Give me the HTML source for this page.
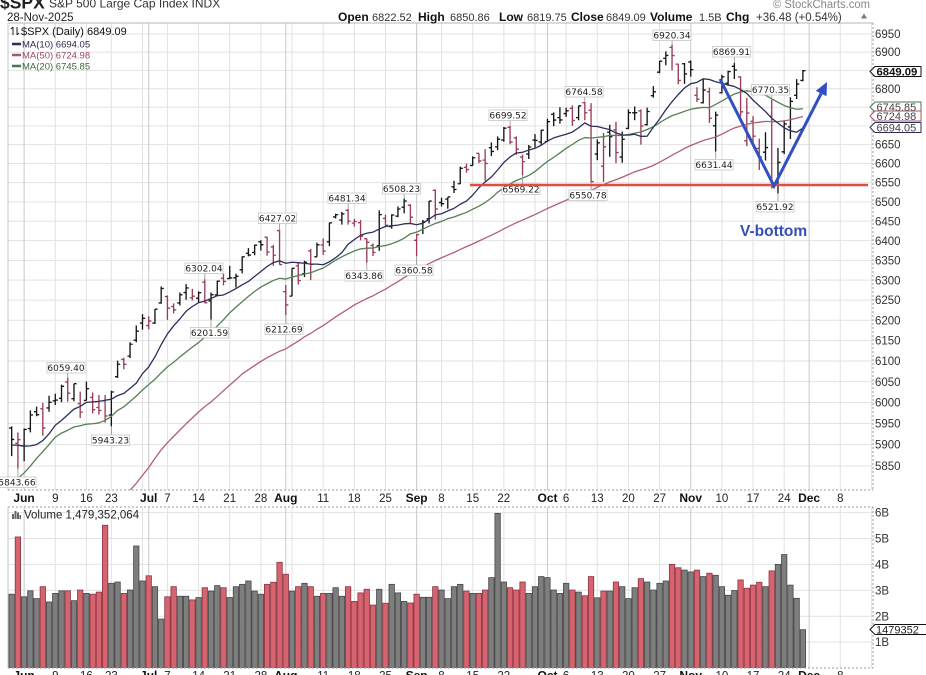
<!DOCTYPE html>
<html><head><meta charset="utf-8">
<style>
html,body{margin:0;padding:0;background:#fff;}
svg{display:block;}
text{font-family:"Liberation Sans",Arial,sans-serif;}
.lb{font-family:"DejaVu Sans",sans-serif;font-size:9px;fill:#222;text-anchor:middle;}
.ax{font-size:11.5px;fill:#333;}
.xd{font-size:11.5px;fill:#222;text-anchor:middle;}
.xm{font-size:12px;font-weight:bold;fill:#111;text-anchor:middle;}
</style></head>
<body>
<svg id="c" width="926" height="675" viewBox="0 0 926 675" xmlns="http://www.w3.org/2000/svg">
<defs>
<clipPath id="pc"><rect x="8" y="23" width="865" height="467"/></clipPath>
<clipPath id="vc"><rect x="8" y="507" width="865" height="161"/></clipPath>
</defs>
<rect width="926" height="675" fill="#fff"/>
<g id="grid"></g>
<g id="vol" clip-path="url(#vc)"></g>
<g id="bars" clip-path="url(#pc)"></g>
<g id="mas" clip-path="url(#pc)" fill="none"></g>
<g id="frame"></g>

<!-- annotation labels -->
<g stroke="#9a9a9a" stroke-width="0.9">
<line x1="67.7" y1="372.5" x2="67.7" y2="377.8"/>
<line x1="111.4" y1="426.4" x2="111.4" y2="435"/>
<line x1="17.9" y1="468.7" x2="17.9" y2="477"/>
<line x1="204.8" y1="273" x2="204.8" y2="279.4"/>
<line x1="211" y1="319.6" x2="211" y2="327.5"/>
<line x1="285.8" y1="315.2" x2="285.8" y2="324"/>
<line x1="279.6" y1="223.5" x2="279.6" y2="230.2"/>
<line x1="348.1" y1="203.5" x2="348.1" y2="209.1"/>
<line x1="366.8" y1="262.8" x2="366.8" y2="270.5"/>
<line x1="404.2" y1="194" x2="404.2" y2="198.7"/>
<line x1="416.6" y1="256.2" x2="416.6" y2="265"/>
<line x1="510.1" y1="120.5" x2="510.1" y2="126"/>
<line x1="522.5" y1="175.3" x2="522.5" y2="184"/>
<line x1="584.8" y1="97" x2="584.8" y2="101.8"/>
<line x1="591.1" y1="182.6" x2="591.1" y2="190"/>
<line x1="672.1" y1="40.5" x2="672.1" y2="44.7"/>
<line x1="734.4" y1="57" x2="734.4" y2="63.1"/>
<line x1="715.7" y1="151.9" x2="715.7" y2="159.5"/>
<line x1="771.7" y1="95" x2="771.7" y2="99.7"/>
<line x1="778" y1="193.4" x2="778" y2="201.5"/>
</g>
<g fill="#fff" stroke="#c6c6c6" stroke-width="0.8">
<rect x="47" y="362.5" width="38" height="10.5"/>
<rect x="91.5" y="435" width="38" height="10.5"/>
<rect x="-2" y="477" width="38" height="10.5"/>
<rect x="185" y="263" width="38" height="10.5"/>
<rect x="190.5" y="327.5" width="38" height="10.5"/>
<rect x="265" y="324" width="38" height="10.5"/>
<rect x="258.5" y="213" width="38" height="10.5"/>
<rect x="328" y="193" width="38" height="10.5"/>
<rect x="345" y="270.5" width="38" height="10.5"/>
<rect x="382.5" y="183.5" width="38" height="10.5"/>
<rect x="395" y="265" width="38" height="10.5"/>
<rect x="489" y="110" width="38" height="10.5"/>
<rect x="502" y="184" width="38" height="10.5"/>
<rect x="565" y="86.5" width="38" height="10.5"/>
<rect x="569" y="190" width="38" height="10.5"/>
<rect x="653" y="30" width="38" height="10.5"/>
<rect x="712.5" y="46.5" width="38" height="10.5"/>
<rect x="695" y="159.5" width="38" height="10.5"/>
<rect x="751.5" y="84.5" width="38" height="10.5"/>
<rect x="756" y="201.5" width="38" height="10.5"/>
</g>
<g>
<text class="lb" x="66" y="371">6059.40</text>
<text class="lb" x="110.5" y="443.5">5943.23</text>
<text class="lb" x="17" y="485.5">5843.66</text>
<text class="lb" x="204" y="271.5">6302.04</text>
<text class="lb" x="209.5" y="336">6201.59</text>
<text class="lb" x="284" y="332.5">6212.69</text>
<text class="lb" x="277.5" y="221.5">6427.02</text>
<text class="lb" x="347" y="201.5">6481.34</text>
<text class="lb" x="364" y="279">6343.86</text>
<text class="lb" x="401.5" y="192">6508.23</text>
<text class="lb" x="414" y="273.5">6360.58</text>
<text class="lb" x="508" y="118.5">6699.52</text>
<text class="lb" x="521" y="192.5">6569.22</text>
<text class="lb" x="584" y="95">6764.58</text>
<text class="lb" x="588" y="198.5">6550.78</text>
<text class="lb" x="672" y="38.5">6920.34</text>
<text class="lb" x="731.5" y="55">6869.91</text>
<text class="lb" x="714" y="168">6631.44</text>
<text class="lb" x="770.5" y="93">6770.35</text>
<text class="lb" x="775" y="210">6521.92</text>
</g>

<!-- support line & V -->
<line x1="470" y1="185" x2="868" y2="185" stroke="#e04e42" stroke-width="2.5"/>
<polyline points="720,79 774,186 821.1,93.6" fill="none" stroke="#2f4fc4" stroke-width="3" stroke-linejoin="miter"/>
<polygon points="827,82 826.5,96.3 815.8,90.9" fill="#2f4fc4"/>
<text x="740" y="236" font-size="15.5" font-weight="bold" fill="#3550b5">V-bottom</text>

<!-- header -->
<text x="0" y="8.5" font-size="17.5" font-weight="bold" fill="#222">$SPX</text>
<text x="49" y="7.5" font-size="12" fill="#333">S&amp;P 500 Large Cap Index INDX</text>
<text x="773" y="8" font-size="11.5" fill="#888" textLength="97" lengthAdjust="spacingAndGlyphs">© StockCharts.com</text>
<text x="7" y="21" font-size="11.5" fill="#222">28-Nov-2025</text>
<g font-size="11" fill="#333">
<text x="338" y="21" font-size="12" font-weight="bold" fill="#111">Open</text>
<text x="372" y="21">6822.52</text>
<text x="418" y="21" font-size="12" font-weight="bold" fill="#111">High</text>
<text x="450" y="21">6850.86</text>
<text x="499" y="21" font-size="12" font-weight="bold" fill="#111">Low</text>
<text x="527" y="21">6819.75</text>
<text x="571" y="21" font-size="12" font-weight="bold" fill="#111">Close</text>
<text x="606" y="21">6849.09</text>
<text x="650" y="21" font-size="12" font-weight="bold" fill="#111">Volume</text>
<text x="699" y="21">1.5B</text>
<text x="726" y="21" font-size="12" font-weight="bold" fill="#111">Chg</text>
<text x="756" y="21" font-size="11.5">+36.48 (+0.54%)</text>
</g>
<polygon points="861,18.5 867,18.5 864,13.5" fill="#777"/>

<!-- legend -->
<g stroke="#222" stroke-width="1">
<line x1="13" y1="27" x2="13" y2="35"/><line x1="11" y1="29" x2="13" y2="27"/>
<line x1="17" y1="27" x2="17" y2="35"/><line x1="17" y1="35" x2="19" y2="33"/>
</g>
<text x="21" y="35" font-family="DejaVu Sans Mono, monospace" font-size="11" fill="#111">$SPX (Daily) 6849.09</text>
<line x1="12" y1="44" x2="21" y2="44" stroke="#2e2e5c" stroke-width="2.5"/>
<text x="22" y="47.5" font-family="DejaVu Sans, sans-serif" font-size="9.5" fill="#2a2a50">MA(10) 6694.05</text>
<line x1="12" y1="55" x2="21" y2="55" stroke="#a5566a" stroke-width="2.5"/>
<text x="22" y="58.5" font-family="DejaVu Sans, sans-serif" font-size="9.5" fill="#9a4a5e">MA(50) 6724.98</text>
<line x1="12" y1="66" x2="21" y2="66" stroke="#4a754a" stroke-width="2.5"/>
<text x="22" y="69.5" font-family="DejaVu Sans, sans-serif" font-size="9.5" fill="#3e663e">MA(20) 6745.85</text>

<g fill="#666">
<rect x="12" y="514" width="2" height="5"/><rect x="14.5" y="511" width="2" height="8"/><rect x="17" y="512.5" width="2" height="6.5"/><rect x="19.5" y="515" width="1.5" height="4"/>
</g>
<text x="24" y="518.5" font-family="DejaVu Sans Mono, monospace" font-size="11.5" fill="#222">Volume 1,479,352,064</text>

<!-- price axis -->
<g class="ax">
<text x="875" y="38">6950</text>
<text x="875" y="56.2">6900</text>
<text x="875" y="92.8">6800</text>
<text x="875" y="148.7">6650</text>
<text x="875" y="167.6">6600</text>
<text x="875" y="186.7">6550</text>
<text x="875" y="205.9">6500</text>
<text x="875" y="225.3">6450</text>
<text x="875" y="244.8">6400</text>
<text x="875" y="264.5">6350</text>
<text x="875" y="284.3">6300</text>
<text x="875" y="304.2">6250</text>
<text x="875" y="324.4">6200</text>
<text x="875" y="344.7">6150</text>
<text x="875" y="365.1">6100</text>
<text x="875" y="385.8">6050</text>
<text x="875" y="406.6">6000</text>
<text x="875" y="427.6">5950</text>
<text x="875" y="448.7">5900</text>
<text x="875" y="470">5850</text>
</g>
<!-- tags -->
<polygon points="870,71.5 875,66.5 921,66.5 921,76.5 875,76.5" fill="#fff" stroke="#111" stroke-width="1"/>
<text x="876.5" y="75.3" font-size="11.3" font-weight="bold" fill="#111">6849.09</text>
<polygon points="870,107 875,102 921,102 921,112 875,112" fill="#fff" stroke="#4a754a" stroke-width="1"/>
<text x="876.5" y="110.8" font-size="11" fill="#444">6745.85</text>
<polygon points="870,116 875,111 921,111 921,121 875,121" fill="#fff" stroke="#a5566a" stroke-width="1"/>
<text x="876.5" y="119.8" font-size="11" fill="#444">6724.98</text>
<polygon points="870,127.5 875,122.5 921,122.5 921,132.5 875,132.5" fill="#fff" stroke="#2e2e5c" stroke-width="1"/>
<text x="876.5" y="131.3" font-size="11" fill="#444">6694.05</text>

<!-- volume axis -->
<g class="ax">
<text x="875" y="516.7">6B</text>
<text x="875" y="542.6">5B</text>
<text x="875" y="568.5">4B</text>
<text x="875" y="594.4">3B</text>
<text x="875" y="620.3">2B</text>
<text x="875" y="646.2">1B</text>
</g>
<polygon points="870,629.5 875,624.5 930,624.5 930,634.5 875,634.5" fill="#fff" stroke="#111" stroke-width="1"/>
<text x="876" y="633.5" font-size="11" fill="#222">1479352</text>

<!-- x axis top -->
<g>
<text class="xm" x="24.1" y="502">Jun</text>
<text class="xd" x="55.3" y="502">9</text>
<text class="xd" x="86.4" y="502">16</text>
<text class="xd" x="111.4" y="502">23</text>
<text class="xm" x="148.7" y="502">Jul</text>
<text class="xd" x="167.4" y="502">7</text>
<text class="xd" x="198.6" y="502">14</text>
<text class="xd" x="229.7" y="502">21</text>
<text class="xd" x="260.9" y="502">28</text>
<text class="xm" x="285.8" y="502">Aug</text>
<text class="xd" x="323.2" y="502">11</text>
<text class="xd" x="354.3" y="502">18</text>
<text class="xd" x="385.5" y="502">25</text>
<text class="xm" x="416.6" y="502">Sep</text>
<text class="xd" x="441.5" y="502">8</text>
<text class="xd" x="472.7" y="502">15</text>
<text class="xd" x="503.8" y="502">22</text>
<text class="xm" x="547.5" y="502">Oct</text>
<text class="xd" x="566.1" y="502">6</text>
<text class="xd" x="597.3" y="502">13</text>
<text class="xd" x="628.4" y="502">20</text>
<text class="xd" x="659.6" y="502">27</text>
<text class="xm" x="690.7" y="502">Nov</text>
<text class="xd" x="721.9" y="502">10</text>
<text class="xd" x="753" y="502">17</text>
<text class="xd" x="784.2" y="502">24</text>
<text class="xm" x="809.1" y="502">Dec</text>
<text class="xd" x="840.3" y="502">8</text>
</g>
<!-- x axis bottom (cut) -->
<g>
<text class="xm" x="24.1" y="679.5">Jun</text>
<text class="xd" x="55.3" y="679.5">9</text>
<text class="xd" x="86.4" y="679.5">16</text>
<text class="xd" x="111.4" y="679.5">23</text>
<text class="xm" x="148.7" y="679.5">Jul</text>
<text class="xd" x="167.4" y="679.5">7</text>
<text class="xd" x="198.6" y="679.5">14</text>
<text class="xd" x="229.7" y="679.5">21</text>
<text class="xd" x="260.9" y="679.5">28</text>
<text class="xm" x="285.8" y="679.5">Aug</text>
<text class="xd" x="323.2" y="679.5">11</text>
<text class="xd" x="354.3" y="679.5">18</text>
<text class="xd" x="385.5" y="679.5">25</text>
<text class="xm" x="416.6" y="679.5">Sep</text>
<text class="xd" x="441.5" y="679.5">8</text>
<text class="xd" x="472.7" y="679.5">15</text>
<text class="xd" x="503.8" y="679.5">22</text>
<text class="xm" x="547.5" y="679.5">Oct</text>
<text class="xd" x="566.1" y="679.5">6</text>
<text class="xd" x="597.3" y="679.5">13</text>
<text class="xd" x="628.4" y="679.5">20</text>
<text class="xd" x="659.6" y="679.5">27</text>
<text class="xm" x="690.7" y="679.5">Nov</text>
<text class="xd" x="721.9" y="679.5">10</text>
<text class="xd" x="753" y="679.5">17</text>
<text class="xd" x="784.2" y="679.5">24</text>
<text class="xm" x="809.1" y="679.5">Dec</text>
<text class="xd" x="840.3" y="679.5">8</text>
</g>
</svg>
<script>
(function(){
const NS="http://www.w3.org/2000/svg";
function el(t,a,p){const e=document.createElementNS(NS,t);for(const k in a)e.setAttribute(k,a[k]);p.appendChild(e);return e;}
const X=i=>17.9+6.23*i;
const Y=p=>34+2507*Math.log(6950/p);
const VY=v=>668-25.9*v;
const pre=[5638.94,5675.12,5614.66,5675.29,5662.89,5667.56,5767.57,5776.65,5712.20,5693.31,5580.94,5611.85,5633.07,5670.97,5396.52,5074.08,5062.25,4982.77,5456.90,5268.05,5363.36,5405.97,5396.63,5275.70,5282.70,5158.20,5287.76,5375.86,5484.77,5525.21,5528.75,5560.83,5569.06,5604.14,5686.67,5650.38,5606.91,5631.28,5663.94,5659.91,5844.19,5886.55,5892.58,5916.93,5958.38,5963.60,5940.46,5844.61,5842.01,5802.82,5921.54,5888.55];
const D=[[5939,5943,5873,5912.17],[5903,5929,5843.66,5911.69],[5897,5938,5861,5935.94],[5938,5981,5929,5970.37],[5978,5990,5967,5970.81],[5985,5999,5921,5939.30],[5987,6016,5978,6000.36],[6004,6021,5994,6005.88],[6010,6043,6001,6038.81],[6049,6059.40,6002,6022.24],[6009,6045,6003,6045.26],[5997,6026,5963,5976.97],[6005,6050,6005,6033.11],[6012,6024,5974,5982.72],[5988,6018,5971,5980.87],[6004,6018,5952,5967.84],[5970,6028,5943.23,6025.17],[6062,6101,6059,6092.18],[6104,6108,6080,6092.16],[6112,6146,6107,6141.02],[6151,6187,6146,6173.07],[6193,6215,6177,6204.95],[6187,6210,6178,6198.01],[6193,6228,6191,6227.42],[6243,6284,6241,6279.35],[6259,6262,6201,6229.98],[6234,6242,6217,6225.52],[6243,6269,6237,6263.26],[6269,6290,6251,6280.46],[6256,6278,6249,6259.75],[6255,6272,6245,6268.56],[6295,6302.04,6242,6243.76],[6248,6269,6201.59,6263.70],[6263,6299,6261,6297.36],[6305,6316,6287,6296.79],[6304,6336,6303,6305.60],[6306,6316,6282,6309.62],[6326,6360,6317,6358.91],[6368,6381,6360,6363.35],[6370,6390,6363,6388.64],[6397,6401,6375,6389.77],[6409,6410,6362,6370.86],[6384,6389,6336,6362.90],[6426,6427.02,6339,6339.39],[6271,6288,6212.69,6238.01],[6260,6330,6260,6329.94],[6336,6344,6289,6299.19],[6316,6349,6308,6345.06],[6374,6379,6300,6340.00],[6359,6395,6359,6389.45],[6389,6406,6364,6373.45],[6397,6446,6386,6445.76],[6461,6469,6457,6466.58],[6453,6474,6441,6468.54],[6478,6481.34,6441,6449.80],[6445,6456,6436,6449.15],[6446,6453,6401,6411.37],[6405,6406,6343.86,6395.78],[6388,6393,6361,6370.17],[6387,6478,6374,6466.91],[6457,6467,6438,6439.32],[6436,6468,6431,6465.94],[6463,6488,6460,6481.40],[6486,6508.23,6470,6501.86],[6491,6494,6444,6460.26],[6401,6417,6360.58,6415.54],[6444,6453,6417,6448.26],[6456,6502,6444,6502.08],[6530,6532,6454,6481.50],[6498,6511,6488,6495.15],[6507,6512,6482,6512.61],[6539,6555,6523,6532.04],[6547,6592,6546,6587.47],[6590,6600,6576,6584.29],[6595,6619,6594,6615.28],[6627,6627,6601,6606.76],[6609,6638,6555,6600.35],[6642,6656,6620,6631.96],[6644,6672,6635,6664.36],[6662,6697,6658,6693.75],[6696,6699.52,6651,6656.92],[6668,6672,6623,6637.97],[6617,6624,6569.22,6604.72],[6625,6649,6612,6643.70],[6662,6678,6642,6661.21],[6657,6689,6649,6688.46],[6658,6719,6657,6711.20],[6731,6736,6699,6715.35],[6722,6750,6706,6715.79],[6733,6749,6724,6740.28],[6747,6755,6700,6714.59],[6722,6754,6715,6753.72],[6762,6764.58,6715,6735.11],[6742,6761,6550.78,6552.51],[6625,6664,6609,6654.72],[6593,6681,6552,6644.31],[6683,6703,6618,6671.06],[6689,6711,6601,6629.07],[6617,6685,6602,6664.01],[6693,6744,6692,6735.13],[6735,6752,6715,6735.35],[6740,6744,6650,6699.40],[6703,6749,6701,6738.44],[6781,6807,6776,6791.69],[6845,6876,6842,6875.16],[6883,6902,6864,6890.89],[6913,6920.34,6850,6890.59],[6867,6868,6812,6822.34],[6868,6870,6813,6840.20],[6873,6877,6833,6851.97],[6782,6804,6764,6771.55],[6762,6827,6760,6796.29],[6792,6803,6708,6720.32],[6700,6738,6631.44,6728.80],[6789,6838,6787,6832.43],[6815,6849,6808,6846.61],[6861,6869.91,6826,6850.92],[6832,6834,6725,6737.49],[6660,6775,6646,6734.11],[6712,6726,6654,6672.41],[6640,6666,6583,6617.32],[6630,6683,6608,6642.16],[6726,6770.35,6535,6538.76],[6555,6641,6521.92,6602.99],[6631,6715,6625,6705.12],[6697,6777,6665,6765.88],[6782,6826,6772,6812.61],[6822.52,6850.86,6819.75,6849.09]];
const V=[2.85,5.06,2.75,2.98,2.68,3.14,2.55,2.88,2.98,2.98,2.6,3.01,2.88,2.85,2.93,5.51,3.27,3.32,2.88,3.01,4.71,3.36,3.56,3.14,1.89,2.75,3.14,2.77,2.77,2.63,2.72,3.1,2.97,3.18,3.1,2.72,3.14,3.23,3.36,2.97,2.85,3.23,3.31,4.08,3.62,2.97,3.14,3.27,3.14,2.77,2.88,2.88,3.1,2.77,3.14,2.57,2.9,3.04,2.43,3.04,2.5,3.23,2.9,2.57,2.51,2.85,2.73,2.73,3.14,3.01,2.68,3.14,3.23,2.97,2.88,2.88,3.01,3.49,5.97,3.32,3.1,3.01,3.32,2.88,3.14,3.53,3.49,3.01,2.88,3.27,3.01,2.93,2.79,3.53,2.71,2.97,2.97,3.32,3.14,2.68,3.1,3.45,3.32,3.01,3.27,3.36,4.0,3.87,3.78,3.71,3.78,3.53,3.66,3.58,3.14,2.81,2.99,3.4,3.08,3.2,3.31,3.14,3.75,4.0,4.38,3.2,2.69,1.48];
const grid=document.getElementById('grid');
for(let p=5850;p<=6950;p+=50){const y=Y(p);el('line',{x1:8,y1:y,x2:873,y2:y,stroke:'#e2e2e2','stroke-width':1},grid);}
for(let v=1;v<=6;v++){const y=VY(v);el('line',{x1:8,y1:y,x2:873,y2:y,stroke:'#e2e2e2','stroke-width':1},grid);}
const wk=[1,6,11,15,20,24,29,34,39,44,49,54,59,64,68,73,78,83,88,93,98,103,108,113,118,123,127,132,137];
const mo=[1,21,43,64,85,108,127];
wk.forEach(i=>{const x=X(i);const m=mo.indexOf(i)>=0;const c=m?'#c9c9c9':'#e2e2e2';
 el('line',{x1:x,y1:23,x2:x,y2:490,stroke:c,'stroke-width':1},grid);
 el('line',{x1:x,y1:507,x2:x,y2:668,stroke:c,'stroke-width':1},grid);});
[21,43,85].forEach(i=>{const x=X(i);el('line',{x1:x,y1:23,x2:x,y2:490,stroke:'#c9c9c9','stroke-width':1},grid);el('line',{x1:x,y1:507,x2:x,y2:668,stroke:'#c9c9c9','stroke-width':1},grid);});
const closes=pre.concat(D.map(d=>d[3]));
const up=[];for(let k=0;k<D.length;k++){const j=pre.length+k;up.push(closes[j]>=closes[j-1]);}
const vg=document.getElementById('vol');
for(let k=0;k<V.length;k++){const i=k-1,x=X(i),y=VY(V[k]);
 el('rect',{x:x-2.7,y:y,width:5.4,height:668-y,fill:up[k]?'#7e7e7e':'#d6646f',stroke:up[k]?'#474747':'#8c3344','stroke-width':0.8},vg);}
const bg=document.getElementById('bars');
for(let k=0;k<D.length;k++){const i=k-1,x=X(i),d=D[k];
 const col=up[k]?'#161616':'#9a3e58';
 const dd='M'+x+' '+Y(d[1])+'V'+Y(d[2])+'M'+(x-2.6)+' '+Y(d[0])+'H'+x+'M'+x+' '+Y(d[3])+'H'+(x+2.6);
 el('path',{d:dd,stroke:col,'stroke-width':1.35,fill:'none'},bg);}
const mg=document.getElementById('mas');
function ma(n,col){let pts=[];for(let k=0;k<D.length;k++){const j=pre.length+k;let s=0;for(let q=j-n+1;q<=j;q++)s+=closes[q];pts.push(X(k-1).toFixed(2)+','+Y(s/n).toFixed(2));}
 el('polyline',{points:pts.join(' '),stroke:col,'stroke-width':1.3,fill:'none','stroke-linejoin':'round'},mg);}
ma(50,'#b0606f');ma(20,'#557f55');ma(10,'#2e2e5c');
const fr=document.getElementById('frame');
el('line',{x1:8,y1:23,x2:873,y2:23,stroke:'#b5b5b5','stroke-width':1},fr);
el('line',{x1:8,y1:23,x2:8,y2:490,stroke:'#c5c5c5','stroke-width':1},fr);
el('line',{x1:873,y1:23,x2:873,y2:490,stroke:'#999','stroke-width':1,'stroke-dasharray':'2,2'},fr);
el('line',{x1:8,y1:490,x2:873,y2:490,stroke:'#999','stroke-width':1,'stroke-dasharray':'2,2'},fr);
el('line',{x1:8,y1:507,x2:873,y2:507,stroke:'#999','stroke-width':1,'stroke-dasharray':'2,2'},fr);
el('line',{x1:8,y1:507,x2:8,y2:668,stroke:'#c5c5c5','stroke-width':1},fr);
el('line',{x1:873,y1:507,x2:873,y2:668,stroke:'#999','stroke-width':1,'stroke-dasharray':'2,2'},fr);
el('line',{x1:8,y1:668,x2:873,y2:668,stroke:'#999','stroke-width':1,'stroke-dasharray':'2,2'},fr);
})();
</script>
</body></html>
